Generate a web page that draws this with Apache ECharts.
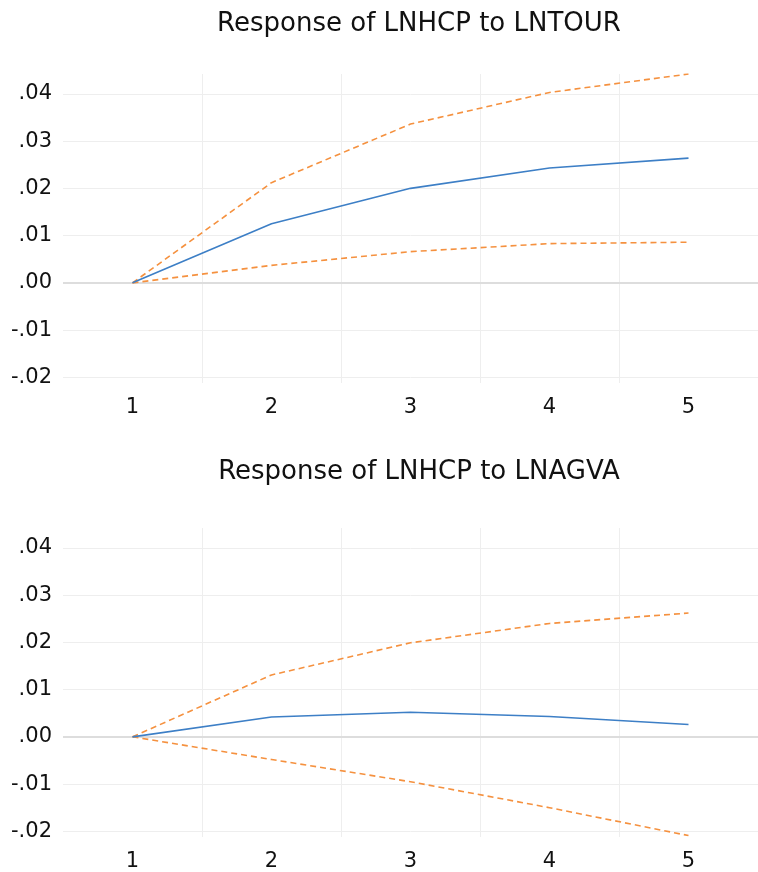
<!DOCTYPE html>
<html>
<head>
<meta charset="utf-8">
<script src="https://cdn.jsdelivr.net/npm/echarts@6/dist/echarts.min.js"></script>
<style>html,body{margin:0;padding:0;background:#fff;}#c{width:758px;height:872px;}</style>
</head>
<body>
<div id="c"></div>
<script>
const categories = ['1', '2', '3', '4', '5'];
const titles = ['Response of LNHCP to LNTOUR', 'Response of LNHCP to LNAGVA'];
const yTicks = [-0.02, -0.01, 0.00, 0.01, 0.02, 0.03, 0.04];

const tourResponse = [0, 0.0125, 0.0200, 0.0243, 0.0264];
const tourUpper    = [0, 0.0212, 0.0336, 0.0403, 0.0442];
const tourLower    = [0, 0.0037, 0.0066, 0.0083, 0.0086];

const agvaResponse = [0, 0.0042, 0.0052, 0.0043, 0.0026];
const agvaUpper    = [0, 0.0131, 0.0199, 0.0240, 0.0262];
const agvaLower    = [0, -0.0048, -0.0095, -0.0150, -0.0209];

const FONT = '"DejaVu Sans", "Open Sans", sans-serif';
const BLUE = '#3d7fc6';
const ORANGE = '#f5913f';

function fmt(v) {
  let s = Math.abs(v).toFixed(2).replace(/^0/, '');
  return (v < -1e-9 ? '-' : '') + s;
}

const panels = [
  {top: 74, height: 309, resp: tourResponse, up: tourUpper, lo: tourLower, titleTop: 22},
  {top: 528, height: 310, resp: agvaResponse, up: agvaUpper, lo: agvaLower, titleTop: 470}
];

const option = {
  backgroundColor: '#fff',
  animation: false,
  title: panels.map((p, i) => ({
    text: titles[i],
    left: 414, top: p.titleTop - 16,
    textAlign: 'center',
    textStyle: {fontFamily: FONT, fontSize: 26, fontWeight: 'normal', color: '#111'}
  })),
  grid: panels.map(p => ({left: 63, width: 700, top: p.top, height: p.height})),
  xAxis: panels.map((p, i) => ({
    type: 'category', gridIndex: i, data: categories, boundaryGap: true,
    axisLine: {show: false}, axisTick: {show: false},
    axisLabel: {fontFamily: FONT, fontSize: 21, color: '#111', margin: 14},
    splitLine: {show: true, showMinLine: false, showMaxLine: false, lineStyle: {color: '#eeeeee', width: 1}}
  })),
  yAxis: panels.map((p, i) => ({
    type: 'value', gridIndex: i, min: -0.0212, max: 0.0442,
    axisLine: {show: false},
    axisTick: {show: false, customValues: yTicks},
    axisLabel: {customValues: yTicks, formatter: fmt, fontFamily: FONT, fontSize: 21, color: '#111', margin: 11},
    splitLine: {show: true, lineStyle: {color: '#eeeeee', width: 1}}
  })),
  series: []
};

panels.forEach((p, i) => {
  option.series.push({
    type: 'line', xAxisIndex: i, yAxisIndex: i, data: p.up, symbol: 'none',
    lineStyle: {color: ORANGE, width: 1.6, type: [6, 4]}, z: 3
  });
  option.series.push({
    type: 'line', xAxisIndex: i, yAxisIndex: i, data: p.lo, symbol: 'none',
    lineStyle: {color: ORANGE, width: 1.6, type: [6, 4]}, z: 3
  });
  option.series.push({
    type: 'line', xAxisIndex: i, yAxisIndex: i, data: p.resp, symbol: 'none',
    lineStyle: {color: BLUE, width: 1.6}, z: 4,
    markLine: {
      silent: true, symbol: 'none', label: {show: false},
      lineStyle: {color: '#dddddd', width: 2, type: 'solid'},
      data: [{yAxis: 0}], z: 1
    }
  });
});

const chart = echarts.init(document.getElementById('c'), null, {renderer: 'canvas'});
chart.setOption(option);
</script>
</body>
</html>
